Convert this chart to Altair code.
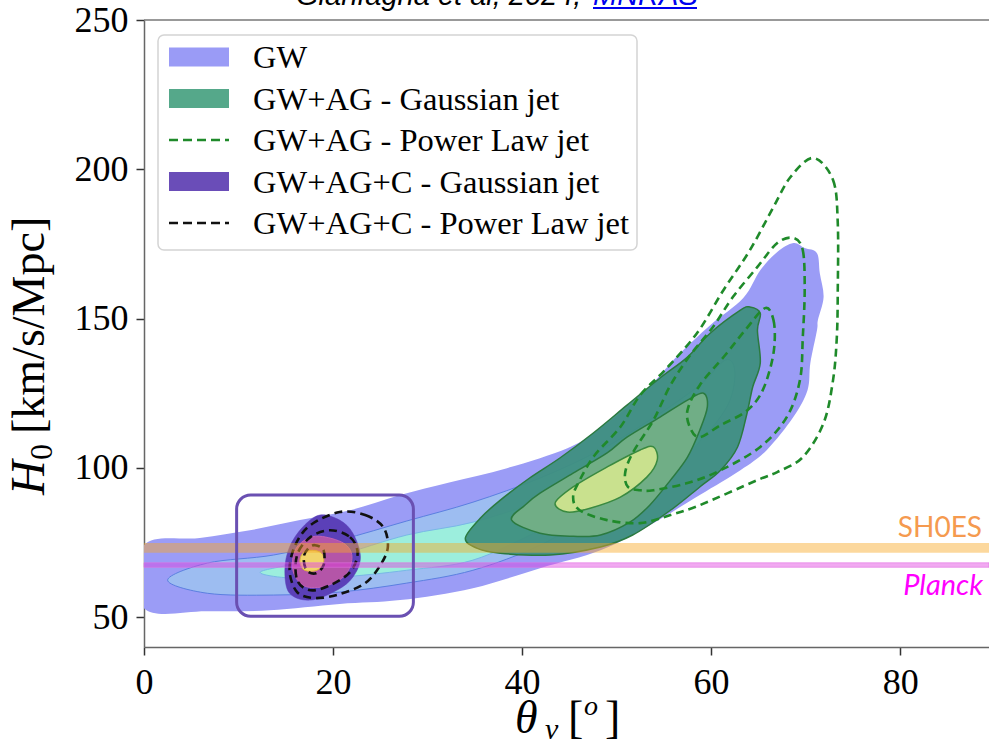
import altair as alt
import pandas as pd

# ---------------- values (theta_v [deg], H0 [km/s/Mpc]) ----------------
# GW only: filled credible regions, outer -> inner
gw_outer_theta = [0, 5.9, 11.2, 16.5, 21.8, 27.1, 32.4, 38.4, 44.8, 48.3, 52.8, 56.4, 59.9, 63.4, 65.2, 67.0, 68.7, 69.9, 71.2, 71.5,
                  71.9, 71.3, 71.2, 70.5, 70.2, 68.7, 65.9, 63.1, 58.8, 53.5, 48.3, 41.9, 34.8, 27.1, 20.7, 13.3, 6.7, 0]
gw_outer_h0 = [74.1, 76.5, 79.1, 82.5, 85.8, 90.9, 95.2, 99.9, 106.6, 113.3, 125.0, 137.4, 147.8, 156.9, 166.2, 172.3, 175.3, 173.6, 171.9, 165.2,
               157.2, 149.5, 146.1, 135.1, 126.0, 117.0, 106.0, 99.2, 90.9, 80.8, 72.4, 66.4, 59.7, 55.7, 54.4, 52.3, 52.0, 53.0]
gw_mid_theta = [2.5, 6.7, 13.7, 20.7, 27.8, 34.8, 41.9, 48.3, 53.5, 58.8, 61.5, 62.5, 62.0, 59.9, 56.7, 52.5, 48.3, 41.9, 34.8, 27.8, 20.7, 13.7, 6.7]
gw_mid_h0 = [62.4, 68.1, 70.8, 75.8, 82.2, 88.5, 96.6, 106.0, 116.0, 127.7, 136.1, 132.7, 122.7, 112.6, 102.6, 92.5, 85.8, 74.1, 65.7, 61.4, 58.4, 57.4, 58.0]
gw_in_theta = [12.3, 16.5, 20.7, 27.8, 34.8, 41.9, 48.3, 53.5, 56.7, 58.8, 54.6, 48.3, 41.9, 34.8, 27.8, 20.7, 15.4]
gw_in_h0 = [65.1, 68.1, 70.8, 77.5, 81.8, 89.2, 99.2, 109.3, 116.0, 109.3, 99.2, 89.2, 79.1, 69.1, 65.7, 63.4, 63.1]

# GW+AG Gaussian jet: filled regions
ag_outer_theta = [34.0, 35.6, 37.7, 40.8, 44.0, 47.5, 51.1, 54.6, 57.5, 59.9, 63.1, 64.1, 65.2, 64.9, 65.2, 64.4, 63.8, 62.8, 61.0,
                  58.8, 55.7, 51.7, 48.3, 43.0, 37.7, 35.2]
ag_outer_h0 = [76.5, 83.2, 89.2, 96.6, 103.3, 111.6, 121.0, 130.1, 137.1, 145.1, 152.8, 153.9, 151.8, 146.1, 135.1, 127.1, 118.3, 107.0, 99.2,
               93.6, 85.8, 77.5, 73.5, 70.8, 71.4, 73.1]
ag_mid_theta = [38.9, 40.3, 41.9, 45.4, 49.0, 51.1, 54.6, 57.5, 59.2, 59.6, 58.8, 57.5, 55.7, 53.5, 51.4, 48.3, 45.4, 41.9]
ag_mid_h0 = [82.5, 87.5, 91.5, 98.2, 105.0, 110.3, 117.0, 122.7, 125.0, 120.4, 112.6, 103.6, 95.9, 87.5, 81.8, 77.5, 77.1, 78.1]
ag_in_theta = [43.5, 45.4, 49.0, 52.5, 53.9, 54.3, 53.2, 50.4, 47.2, 44.8]
ag_in_h0 = [88.2, 93.6, 100.3, 106.0, 107.0, 102.6, 96.9, 90.2, 86.5, 85.2]

# GW+AG Power Law jet: dashed contours
pl_outer_theta = [70.8, 72.9, 73.4, 73.4, 73.3, 72.9, 71.9, 69.7, 67.0, 64.9, 58.8, 55.7, 52.5, 49.0, 46.1, 45.4, 46.1, 47.7, 50.4, 52.5,
                  55.1, 58.5, 61.3, 64.1, 66.6, 68.4]
pl_outer_h0 = [203.8, 196.4, 182.0, 159.5, 143.8, 129.4, 115.0, 103.6, 98.6, 95.9, 87.5, 84.2, 81.5, 82.5, 85.8, 90.2, 95.9, 104.3, 113.7, 124.4,
               132.7, 145.1, 159.5, 172.9, 187.4, 197.4]
pl_mid_theta = [68.7, 69.7, 69.9, 69.7, 69.4, 68.0, 65.2, 61.0, 57.5, 53.9, 52.5, 51.2, 50.9, 51.7, 53.9, 55.7, 57.8, 60.2, 62.3, 64.9, 67.0]
pl_mid_h0 = [177.0, 172.9, 159.5, 143.8, 129.4, 117.0, 107.0, 99.2, 94.9, 92.5, 92.5, 93.6, 98.2, 105.0, 116.0, 127.7, 137.8, 147.2, 157.2, 167.3, 175.3]
pl_in_theta = [65.7, 66.6, 66.7, 66.2, 65.2, 63.6, 61.0, 58.8, 57.8, 57.5, 58.8, 61.5, 63.6]
pl_in_h0 = [153.5, 149.5, 141.1, 132.7, 124.4, 118.7, 114.3, 110.3, 113.3, 119.3, 127.7, 137.8, 146.1]

# GW+AG+C Gaussian jet: filled regions
agc_outer_theta = [18.6, 20.7, 22.1, 22.9, 22.1, 20.4, 17.6, 15.4, 14.9, 15.4, 16.8]
agc_outer_h0 = [84.2, 82.5, 78.1, 70.1, 63.4, 59.0, 55.7, 58.0, 65.7, 73.5, 80.2]
agc_mid_theta = [18.6, 21.1, 22.0, 21.3, 19.2, 17.0, 15.8, 15.9, 17.0]
agc_mid_h0 = [77.1, 74.8, 70.4, 64.1, 60.4, 60.4, 65.1, 71.8, 75.8]
agc_in_theta = [17.8, 18.8, 19.0, 18.3, 17.0, 16.5, 16.8]
agc_in_h0 = [72.4, 71.4, 68.4, 65.7, 65.7, 68.4, 71.4]

# GW+AG+C Power Law jet: dashed contours
agcpl_outer_theta = [20.7, 23.4, 25.3, 25.8, 25.0, 23.4, 20.7, 18.1, 16.2, 15.4, 16.0, 17.6]
agcpl_outer_h0 = [85.2, 84.2, 80.2, 73.5, 67.4, 61.4, 57.7, 56.4, 58.4, 65.7, 74.1, 80.8]
agcpl_mid_theta = [19.7, 21.8, 22.6, 21.8, 19.7, 17.6, 16.2, 16.2, 17.6]
agcpl_mid_h0 = [79.1, 76.8, 71.4, 65.1, 60.7, 59.0, 62.4, 70.8, 76.8]
agcpl_in_theta = [18.1, 19.0, 19.0, 18.2, 17.2, 16.9, 17.4]
agcpl_in_h0 = [74.1, 72.4, 67.4, 64.7, 65.7, 70.1, 73.1]

# reference H0 bands
band_names = ["SH0ES", "Planck"]
band_lo = [71.6, 66.7]
band_hi = [74.8, 68.2]

# highlight box (theta range, H0 range)
box_theta = [9.8, 28.5]
box_h0 = [50.3, 90.9]

legend_labels = ["GW", "GW+AG - Gaussian jet", "GW+AG - Power Law jet", "GW+AG+C - Gaussian jet", "GW+AG+C - Power Law jet"]
legend_kind = ["patch", "patch", "dash", "patch", "dash"]
legend_color = ["#9a9bf6", "#55a88a", "#1f8a2a", "#6a4db8", "#111111"]

x_ticks = [0, 20, 40, 60, 80]
y_ticks = [50, 100, 150, 200, 250]

# ---------------- chart ----------------
W, H = 845, 627
xs = alt.Scale(domain=[0, 89.4], nice=False, zero=False)
ys = alt.Scale(domain=[40, 250], nice=False, zero=False)
common_axis = dict(title=None, grid=False, labelFont="Liberation Serif", labelFontSize=36, labelColor="black",
                   tickSize=8, tickWidth=1.5, tickColor="#333", domainColor="#666", domainWidth=1.5)
xaxis = alt.Axis(values=x_ticks, labelPadding=10, labelFlush=False, **common_axis)
yaxis = alt.Axis(values=y_ticks, labelPadding=8, **common_axis)
X = alt.X("t:Q", scale=xs, axis=xaxis)
Y = alt.Y("h:Q", scale=ys, axis=yaxis)


def poly(t, h):
    return pd.DataFrame({"t": t, "h": h, "o": list(range(len(t)))})


def filled(t, h, fill, stroke, sw, op=1.0):
    return alt.Chart(poly(t, h)).mark_line(
        fill=fill, stroke=stroke, strokeWidth=sw, fillOpacity=op, interpolate="cardinal-closed", clip=True
    ).encode(x=X, y=Y, order="o:Q")


def dashed(t, h, color):
    return alt.Chart(poly(t, h)).mark_line(
        stroke=color, strokeWidth=2.6, strokeDash=[8, 5], interpolate="cardinal-closed", clip=True
    ).encode(x=X, y=Y, order="o:Q")


def lit():
    return alt.Chart(pd.DataFrame({"k": [0]}))


layers = [
    filled(gw_outer_theta, gw_outer_h0, "#9b9cf6", "#9b9cf6", 0),
    filled(gw_mid_theta, gw_mid_h0, "#9dbdf1", "#5b7fe0", 1),
    filled(gw_in_theta, gw_in_h0, "#9ceedd", "#78b8e6", 1),
    filled(ag_outer_theta, ag_outer_h0, "#3e8f80", "#2b7a40", 1.5, 0.95),
    filled(ag_mid_theta, ag_mid_h0, "#70ae86", "#2b7a40", 1.5),
    filled(ag_in_theta, ag_in_h0, "#c9e18e", "#3a8a40", 1.5),
    filled(agc_outer_theta, agc_outer_h0, "#5b40b8", "#5b40b8", 0.5),
    filled(agc_mid_theta, agc_mid_h0, "#b455a8", "#c462b4", 1),
    filled(agc_in_theta, agc_in_h0, "#f2d46a", "#d9b040", 1),
    dashed(pl_outer_theta, pl_outer_h0, "#1f8a2a"),
    dashed(pl_mid_theta, pl_mid_h0, "#1f8a2a"),
    dashed(pl_in_theta, pl_in_h0, "#1f8a2a"),
    dashed(agcpl_outer_theta, agcpl_outer_h0, "#111111"),
    dashed(agcpl_mid_theta, agcpl_mid_h0, "#111111"),
    dashed(agcpl_in_theta, agcpl_in_h0, "#111111"),
]

bands = pd.DataFrame({"name": band_names, "lo": band_lo, "hi": band_hi})
layers.append(alt.Chart(bands[bands.name == "SH0ES"]).mark_rect(fill="#f9a825", fillOpacity=0.45).encode(
    x=alt.value(0), x2=alt.value(W), y=alt.Y("lo:Q", scale=ys, axis=yaxis), y2="hi:Q"))
layers.append(alt.Chart(bands[bands.name == "Planck"]).mark_rect(fill="#e040e0", fillOpacity=0.45, stroke="#e070e0", strokeWidth=0.6).encode(
    x=alt.value(0), x2=alt.value(W), y=alt.Y("lo:Q", scale=ys, axis=yaxis), y2="hi:Q"))

boxdf = pd.DataFrame({"t": [box_theta[0]], "t2": [box_theta[1]], "h": [box_h0[0]], "h2": [box_h0[1]]})
layers.append(alt.Chart(boxdf).mark_rect(filled=False, stroke="#6a50b2", strokeWidth=3, cornerRadius=14).encode(
    x=X, x2="t2:Q", y=Y, y2="h2:Q"))

# top frame line
layers.append(alt.Chart(pd.DataFrame({"h": [250]})).mark_rule(color="#777", strokeWidth=1.5).encode(
    x=alt.value(0), x2=alt.value(W + 10), y=Y))

# labels of the reference bands
layers.append(lit().mark_text(text="SH0ES", font="Lato", fontSize=28, align="right", baseline="alphabetic",
                              color="#f59a4f").encode(x=alt.value(838), y=alt.value(517)))
layers.append(lit().mark_text(text="Planck", font="Lato", fontStyle="italic", fontSize=29, align="right",
                              baseline="alphabetic", color="#ff00ff").encode(x=alt.value(839), y=alt.value(575)))

# legend
layers.append(lit().mark_rect(fill="white", fillOpacity=0.85, stroke="#d4d4d4", strokeWidth=1.5, cornerRadius=6).encode(
    x=alt.value(14), x2=alt.value(493), y=alt.value(15), y2=alt.value(230)))
for i, (lab, kind, col) in enumerate(zip(legend_labels, legend_kind, legend_color)):
    yc = 37 + 41.5 * i
    if kind == "patch":
        layers.append(lit().mark_rect(fill=col).encode(
            x=alt.value(25), x2=alt.value(85), y=alt.value(yc - 9.5), y2=alt.value(yc + 9.5)))
    else:
        layers.append(lit().mark_rule(color=col, strokeWidth=2.5, strokeDash=[9, 5]).encode(
            x=alt.value(25), x2=alt.value(85), y=alt.value(yc)))
    layers.append(lit().mark_text(text=lab, font="Liberation Serif", fontSize=32.5, align="left", baseline="middle",
                                  color="black").encode(x=alt.value(109), y=alt.value(yc + 1)))

# axis titles (with sub/superscripts)
serif = "Liberation Serif"
layers += [
    lit().mark_text(text="θ", font=serif, fontStyle="italic", fontSize=46, align="left", baseline="alphabetic",
                    color="black").encode(x=alt.value(371), y=alt.value(713)),
    lit().mark_text(text="v", font=serif, fontStyle="italic", fontSize=30, align="left", baseline="alphabetic",
                    color="black").encode(x=alt.value(401), y=alt.value(719)),
    lit().mark_text(text="[", font=serif, fontSize=46, align="left", baseline="alphabetic",
                    color="black").encode(x=alt.value(424), y=alt.value(713)),
    lit().mark_text(text="o", font=serif, fontStyle="italic", fontSize=28, align="left", baseline="alphabetic",
                    color="black").encode(x=alt.value(440), y=alt.value(695)),
    lit().mark_text(text="]", font=serif, fontSize=46, align="left", baseline="alphabetic",
                    color="black").encode(x=alt.value(461), y=alt.value(713)),
    lit().mark_text(text="H", font=serif, fontStyle="italic", fontSize=48, angle=270, align="left",
                    baseline="alphabetic", color="black").encode(x=alt.value(-100), y=alt.value(475)),
    lit().mark_text(text="0", font=serif, fontSize=32, angle=270, align="left",
                    baseline="alphabetic", color="black").encode(x=alt.value(-92), y=alt.value(440)),
    lit().mark_text(text="[km/s/Mpc]", font=serif, fontSize=46, angle=270, align="left",
                    baseline="alphabetic", color="black").encode(x=alt.value(-100), y=alt.value(414)),
]

# citation line at the very top (cut by the page edge, as in the source)
layers += [
    lit().mark_text(text="Gianfagna et al, 2024, ", font="Liberation Sans", fontStyle="italic", fontSize=29,
                    align="left", baseline="alphabetic", color="black").encode(x=alt.value(152), y=alt.value(-15)),
    lit().mark_text(text="MNRAS", font="Liberation Sans", fontStyle="italic", fontSize=29,
                    align="left", baseline="alphabetic", color="#0000ee").encode(x=alt.value(449), y=alt.value(-15)),
    lit().mark_rule(color="#0000ee", strokeWidth=2).encode(x=alt.value(449), x2=alt.value(553), y=alt.value(-12)),
]

chart = alt.layer(*layers).properties(
    width=W, height=H,
    padding={"left": 144, "top": 20, "right": 0, "bottom": 100},
    autosize=alt.AutoSizeParams(type="none"),
    background="white",
).configure_view(strokeWidth=0)

chart.save("out.html", embed_options={"renderer": "svg", "actions": False})
